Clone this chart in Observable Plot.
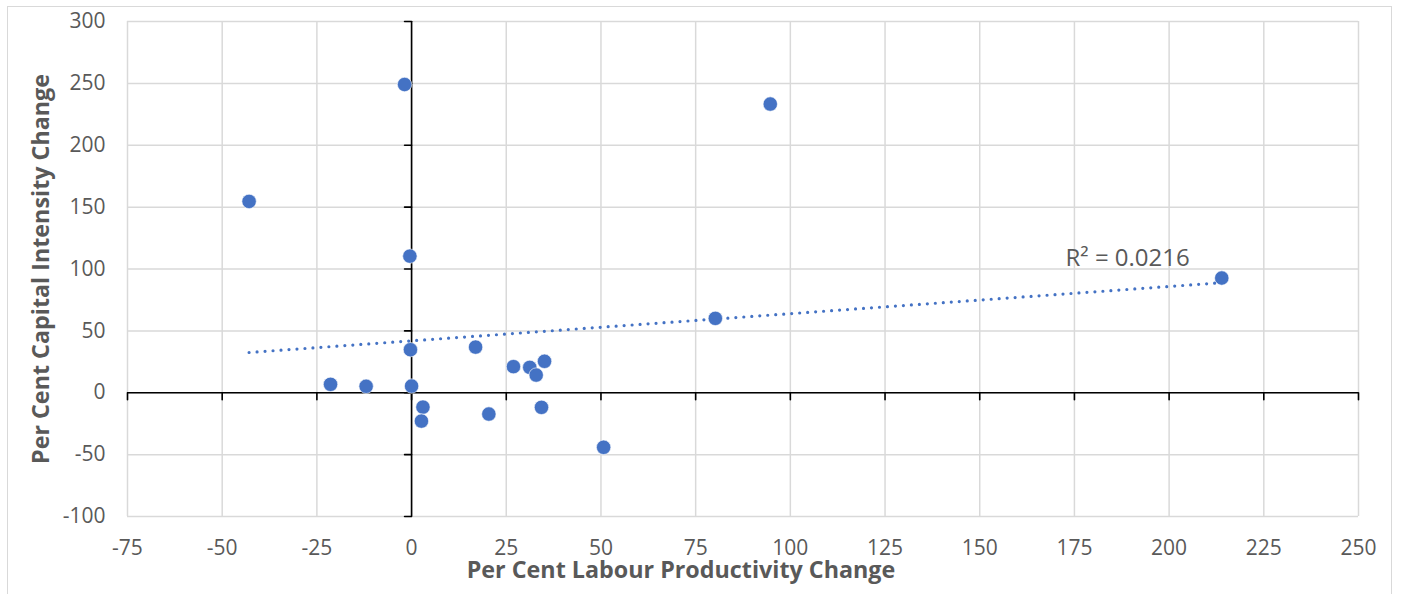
<!DOCTYPE html>
<html>
<head>
<meta charset="utf-8">
<script src="https://cdn.jsdelivr.net/npm/d3@7"></script>
<script src="https://cdn.jsdelivr.net/npm/@observablehq/plot@0.6"></script>
<style>
  html, body { margin: 0; padding: 0; background: #fff; }
  #wrap { position: relative; width: 1401px; height: 594px; overflow: hidden; }
  #border { position: absolute; left: 7px; top: 6px; width: 1385px; height: 620px; border: 1.5px solid #d9d9d9; box-sizing: border-box; }
  #chart { position: absolute; left: 0; top: 0; }
</style>
</head>
<body>
<div id="wrap"><div id="border"></div><div id="chart"></div></div>
<script>
// Data
const labourProductivityChange = [-42.9, -1.85, -0.45, 94.7, 213.9, 80.2, 16.9, -0.3, -21.4, -12.0, 0.0, 3.0, 2.6, 20.4, 26.9, 31.2, 32.9, 35.1, 34.3, 50.7];
const capitalIntensityChange   = [154.6, 249.1, 110.4, 233.3, 92.7, 60.1, 36.9, 34.8, 6.8, 5.2, 5.4, -11.6, -22.9, -17.2, 21.1, 20.5, 14.3, 25.4, -11.8, -44.1];
const xTicks = [-75, -50, -25, 0, 25, 50, 75, 100, 125, 150, 175, 200, 225, 250];
const yTicks = [-100, -50, 0, 50, 100, 150, 200, 250, 300];
const xTitle = "Per Cent Labour Productivity Change";
const yTitle = "Per Cent Capital Intensity Change";
const r2Label = ["R\u00B2 = 0.0216"];

const points = labourProductivityChange.map((x, i) => ({x, y: capitalIntensityChange[i]}));

// Linear least-squares trendline computed from the data
const mx = d3.mean(points, d => d.x), my = d3.mean(points, d => d.y);
const slope = d3.sum(points, d => (d.x - mx) * (d.y - my)) / d3.sum(points, d => (d.x - mx) ** 2);
const intercept = my - slope * mx;
const [minX, maxX] = d3.extent(points, d => d.x);
const trend = [minX, maxX].map(x => ({x, y: intercept + slope * x}));

const blue = "#4472C4";
const grey = "#d9d9d9";
const textCol = "#595959";
const tickShape = {draw(context, l) { context.moveTo(0, 0); context.lineTo(0, -l); }};

const chart = Plot.plot({
  width: 1401,
  height: 594,
  marginLeft: 127,
  marginRight: 43,
  marginTop: 21,
  marginBottom: 78,
  x: {domain: [-75, 250]},
  y: {domain: [-100, 300]},
  style: {fontFamily: "'Open Sans', sans-serif", fontSize: "21px", color: textCol, background: "transparent"},
  marks: [
    Plot.gridX(xTicks, {stroke: grey, strokeOpacity: 1, strokeWidth: 1.5}),
    Plot.gridY(yTicks, {stroke: grey, strokeOpacity: 1, strokeWidth: 1.5}),
    Plot.axisX(xTicks, {tickSize: 0, tickPadding: 24, label: null, tickFormat: d => String(d), fill: textCol}),
    Plot.axisY(yTicks, {tickSize: 0, tickPadding: 22, label: null, tickFormat: d => String(d), fill: textCol}),
    Plot.ruleX([0], {stroke: "#000", strokeWidth: 1.6}),
    Plot.ruleY([0], {stroke: "#000", strokeWidth: 1.6}),
    Plot.vector(xTicks, {x: d => d, y: 0, length: 7, rotate: 180, anchor: "start", shape: tickShape, stroke: "#000", strokeWidth: 1.6}),
    Plot.vector(yTicks, {x: 0, y: d => d, length: 7, rotate: 270, anchor: "start", shape: tickShape, stroke: "#000", strokeWidth: 1.6}),
    Plot.dot(points, {x: "x", y: "y", r: 7.2, fill: blue, stroke: "#fff", strokeWidth: 0.6}),
    Plot.line(trend, {x: "x", y: "y", stroke: blue, strokeWidth: 3.2, strokeDasharray: "0 8", strokeLinecap: "round"}),
    Plot.text(r2Label, {x: () => maxX, y: () => intercept + slope * maxX, text: d => d, textAnchor: "end", dx: -32, dy: -24, fontSize: 24, fill: textCol}),
    Plot.text([xTitle], {frameAnchor: "bottom", text: d => d, textAnchor: "middle", lineAnchor: "middle", dx: -62, dy: 54, fontWeight: "bold", fontSize: 23.3, fill: textCol}),
    Plot.text([yTitle], {frameAnchor: "left", text: d => d, rotate: -90, textAnchor: "middle", lineAnchor: "middle", dx: -86, dy: 0, fontWeight: "bold", fontSize: 23.3, fill: textCol})
  ]
});
document.getElementById("chart").appendChild(chart);
</script>
</body>
</html>
